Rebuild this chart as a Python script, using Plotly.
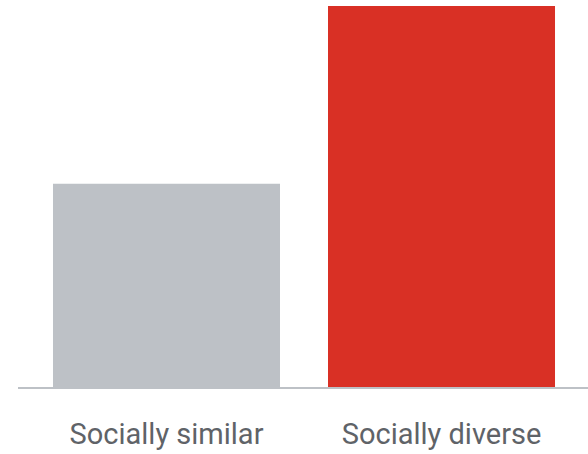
import plotly.graph_objects as go

categories = ["Socially similar", "Socially diverse"]
values = [32, 60]
colors = ["#BDC1C6", "#D93025"]

fig = go.Figure(go.Bar(
    x=categories, y=values, marker_color=colors, marker_line_width=0,
    width=0.8255, hoverinfo="skip"
))
fig.update_layout(
    width=588, height=454,
    margin=dict(l=18, r=0, t=0, b=67),
    paper_bgcolor="white", plot_bgcolor="white",
    showlegend=False,
    font=dict(family="Roboto", color="#5F6368", size=29),
)
fig.update_xaxes(
    range=[-0.54, 1.5327], showline=True, linecolor="#BDC1C6", linewidth=2,
    showgrid=False, ticks="", ticklabelstandoff=20, tickfont=dict(size=29, color="#5F6368"),
)
fig.update_yaxes(range=[0, 60.95], visible=False, showgrid=False, zeroline=False)
fig.write_html("out.html")
